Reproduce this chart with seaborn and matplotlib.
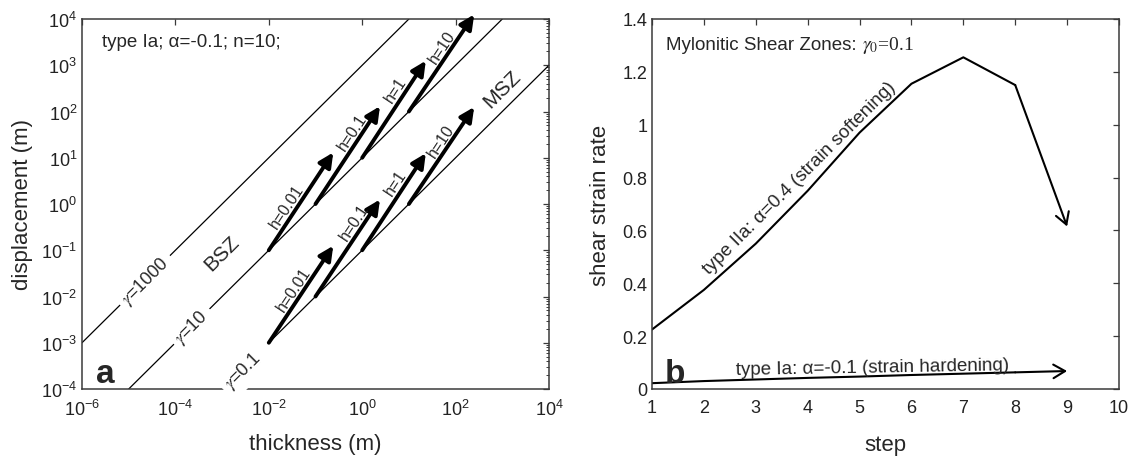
import numpy as np
import pandas as pd
import matplotlib
matplotlib.use("Agg")
import matplotlib.pyplot as plt
import seaborn as sns
from matplotlib.ticker import LogLocator, NullLocator, FixedLocator, NullFormatter, FuncFormatter

# ---------------- Panel a data ----------------
gamma_labels = ["$\\gamma$=1000", "$\\gamma$=10", "$\\gamma$=0.1"]
line_t_start = [1e-6, 1e-5, 1e-2]
line_t_end = [10, 1e3, 1e4]
line_d_start = [1e-3, 1e-4, 1e-3]
line_d_end = [1e4, 1e4, 1e3]

h_labels = ["h=0.01", "h=0.1", "h=1", "h=10"]
arrow_t_start = [0.01, 0.1, 1, 10]
arrow_t_end = [0.24, 2.4, 23, 250]
bsz_d_start = [0.1, 1, 10, 100]
bsz_d_end = [13, 130, 1250, 12500]
msz_d_start = [0.001, 0.01, 0.1, 1]
msz_d_end = [0.125, 1.25, 12.5, 125]

# ---------------- Panel b data ----------------
steps = [1, 2, 3, 4, 5, 6, 7, 8, 9]
rate_IIa = [0.225, 0.375, 0.55, 0.75, 0.97, 1.155, 1.255, 1.15, 0.615]
rate_Ia = [0.022, 0.030, 0.036, 0.042, 0.047, 0.053, 0.058, 0.063, 0.068]

sns.set_style("white")
plt.rcParams["font.family"] = ["Liberation Sans", "DejaVu Sans"]
plt.rcParams["mathtext.fontset"] = "stix"

fig = plt.figure(figsize=(11.28, 4.6), dpi=100)
axA = fig.add_axes([82 / 1128, 1 - 390 / 460, 467 / 1128, 370 / 460])
axB = fig.add_axes([652 / 1128, 1 - 390 / 460, 467 / 1128, 370 / 460])

spine_col = "#3a3a3a"
for ax in (axA, axB):
    for s in ax.spines.values():
        s.set_color(spine_col)
        s.set_linewidth(1.1)
        s.set_visible(True)
    ax.tick_params(which="both", direction="in", top=True, right=True,
                   colors=spine_col, labelcolor="#222222", labelsize=13)
    ax.tick_params(which="major", length=4.5, width=0.9)
    ax.tick_params(which="minor", length=2.5, width=0.7)
    ax.tick_params(axis="x", which="major", pad=7)

# ---------- Panel a ----------
for t0, t1, d0, d1 in zip(line_t_start, line_t_end, line_d_start, line_d_end):
    sns.lineplot(x=[t0, t1], y=[d0, d1], ax=axA, color="black", lw=0.9,
                 estimator=None, sort=False)
axA.set_xscale("log")
axA.set_yscale("log")
axA.set_xlim(1e-6, 1e4)
axA.set_ylim(1e-4, 1e4)
axA.xaxis.set_major_locator(FixedLocator([1e-6, 1e-4, 1e-2, 1, 1e2, 1e4]))
axA.xaxis.set_minor_locator(NullLocator())
axA.yaxis.set_major_locator(LogLocator(base=10, numticks=20))
axA.yaxis.set_minor_locator(LogLocator(base=10, subs=np.arange(2, 10), numticks=20))
axA.yaxis.set_minor_formatter(NullFormatter())

arrow_kw = dict(arrowstyle="-|>,head_length=0.45,head_width=0.22", lw=2.8,
                color="black", mutation_scale=19, shrinkA=0, shrinkB=0)
# label placement: fraction along each arrow, offset to its left side
frac_bsz = [0.40, 0.69, 0.65, 0.62]
frac_msz = [0.50, 0.72, 0.65, 0.60]
perp_off = (-5.4, 3.6)  # points, left-perpendicular of arrow direction


def draw_arrows(d_start, d_end, fracs):
    for lab, t0, t1, d0, d1, f in zip(h_labels, arrow_t_start, arrow_t_end,
                                      d_start, d_end, fracs):
        axA.annotate("", xy=(t1, d1), xytext=(t0, d0), arrowprops=arrow_kw,
                     annotation_clip=False)
        lx = np.log10(t0) + f * (np.log10(t1) - np.log10(t0))
        ly = np.log10(d0) + f * (np.log10(d1) - np.log10(d0))
        axA.annotate(lab, xy=(10 ** lx, 10 ** ly), xytext=perp_off,
                     textcoords="offset points", rotation=56.5,
                     ha="center", va="center", fontsize=11.5,
                     rotation_mode="anchor")


draw_arrows(bsz_d_start, bsz_d_end, frac_bsz)
draw_arrows(msz_d_start, msz_d_end, frac_msz)

g_pos = [(-4.65, -1.65), (-3.65, -2.65), (-2.55, -3.6)]
for lab, (lx, ly) in zip(gamma_labels, g_pos):
    axA.text(10 ** lx, 10 ** ly, lab, rotation=45, ha="center", va="center",
             fontsize=13, rotation_mode="anchor",
             bbox=dict(boxstyle="square,pad=0.3", fc="white", ec="none"))
axA.text(10 ** -3.0, 10 ** -1.05, "BSZ", rotation=45, ha="center", va="center",
         fontsize=15, rotation_mode="anchor")
axA.text(10 ** 3.0, 10 ** 2.5, "MSZ", rotation=45, ha="center", va="center",
         fontsize=15, rotation_mode="anchor")

axA.text(0.043, 0.938, "type Ia; α=-0.1; n=10;", transform=axA.transAxes,
         ha="left", va="center", fontsize=13.5)
axA.text(0.049, 0.02, "a", transform=axA.transAxes, ha="center",
         va="baseline", fontsize=24, fontweight="bold")
axA.set_xlabel("thickness (m)", fontsize=16, labelpad=10)
axA.set_ylabel("displacement (m)", fontsize=16, labelpad=6)

# ---------- Panel b ----------
dfb = pd.DataFrame({"step": steps, "IIa": rate_IIa, "Ia": rate_Ia})
sns.lineplot(data=dfb.iloc[:8], x="step", y="IIa", ax=axB, color="black", lw=1.5)
sns.lineplot(data=dfb.iloc[:8], x="step", y="Ia", ax=axB, color="black", lw=1.5)
arrow_b = dict(arrowstyle="->,head_length=0.6,head_width=0.35", lw=1.5,
               color="black", mutation_scale=14, shrinkA=0, shrinkB=0)
axB.annotate("", xy=(steps[8], rate_IIa[8]), xytext=(steps[7], rate_IIa[7]),
             arrowprops=arrow_b)
axB.annotate("", xy=(steps[8], rate_Ia[8]), xytext=(steps[7], rate_Ia[7]),
             arrowprops=arrow_b)
axB.set_xlim(1, 10)
axB.set_ylim(0, 1.4)
axB.xaxis.set_major_locator(FixedLocator(list(range(1, 11))))
axB.yaxis.set_major_locator(FixedLocator([0, 0.2, 0.4, 0.6, 0.8, 1.0, 1.2, 1.4]))
axB.yaxis.set_major_formatter(FuncFormatter(lambda v, p: f"{v:g}"))
axB.set_xlabel("step", fontsize=16, labelpad=13)
axB.set_ylabel("shear strain rate", fontsize=16, labelpad=8)

t1 = axB.text(0.030, 0.932, "Mylonitic Shear Zones: ", transform=axB.transAxes,
              ha="left", va="center", fontsize=13.5)
axB.annotate("$\\gamma_0$=0.1", xy=(1, 0.5), xycoords=t1, ha="left", va="center",
             fontsize=14, family="Liberation Serif", math_fontfamily="stix")
axB.text(3.84, 0.80, "type IIa: α=0.4 (strain softening)", rotation=45,
         ha="center", va="center", fontsize=13.5, rotation_mode="anchor")
axB.text(5.25, 0.052, "type Ia: α=-0.1 (strain hardening)", rotation=1,
         ha="center", va="bottom", fontsize=13.5, rotation_mode="anchor")
axB.text(0.049, 0.02, "b", transform=axB.transAxes, ha="center",
         va="baseline", fontsize=24, fontweight="bold")

fig.savefig("out.png", dpi=100)
